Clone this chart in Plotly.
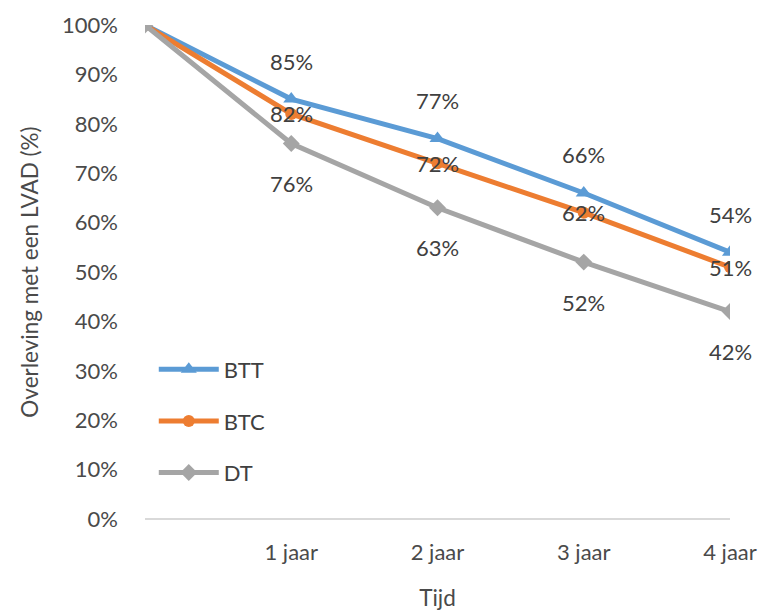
import plotly.graph_objects as go

# Survival after LVAD implantation per strategy, in percent
years = [0, 1, 2, 3, 4]
year_labels = ["1 jaar", "2 jaar", "3 jaar", "4 jaar"]
btt = [100, 85, 77, 66, 54]
btc = [100, 82, 72, 62, 51]
dt = [100, 76, 63, 52, 42]

FONT = "Lato"
TXT = "#404040"
TICK = "#4a4a4a"

series = [
    ("BTT", btt, "#5B9BD5", "triangle-up", 14, 38),
    ("BTC", btc, "#ED7D31", "circle", 12, 0),
    ("DT", dt, "#A5A5A5", "diamond", 13, -40),
]

fig = go.Figure()
annotations = []
for name, vals, color, symbol, msize, shift in series:
    fig.add_trace(go.Scatter(
        x=years, y=vals, name=name, mode="lines+markers",
        line=dict(color=color, width=5),
        marker=dict(symbol=symbol, size=msize, color=color),
        legendgroup=name,
    ))
    # value labels for every point after the start
    for x, v in zip(years[1:], vals[1:]):
        annotations.append(dict(
            x=x, y=v, xref="x", yref="y", text=f"{v}%", showarrow=False,
            yshift=shift, font=dict(family=FONT, size=22, color=TXT),
        ))

fig.update_layout(
    width=764, height=614,
    margin=dict(l=145, r=34, t=25, b=95),
    plot_bgcolor="white", paper_bgcolor="white",
    font=dict(family=FONT, size=22, color=TICK),
    annotations=annotations,
    showlegend=True,
    legend=dict(
        x=0.015, y=0.345, xanchor="left", yanchor="top",
        bgcolor="rgba(0,0,0,0)", font=dict(family=FONT, size=22, color=TXT),
        tracegroupgap=20, itemwidth=60,
    ),
    xaxis=dict(
        range=[0, 4], tickvals=years[1:], ticktext=year_labels,
        showgrid=False, zeroline=False, showline=False, automargin=False,
        ticks="", ticklabelstandoff=18,
        title=dict(text="Tijd", font=dict(family=FONT, size=22.5, color=TICK), standoff=26),
    ),
    yaxis=dict(
        range=[0, 100], dtick=10, ticksuffix="%",
        showgrid=False, zeroline=True, zerolinecolor="#D9D9D9", zerolinewidth=1.5,
        showline=False, automargin=False, ticks="", ticklabelstandoff=26,
        title=dict(text="Overleving met een LVAD (%)", font=dict(family=FONT, size=22.5, color=TICK), standoff=17),
    ),
)

fig.write_html("out.html")
